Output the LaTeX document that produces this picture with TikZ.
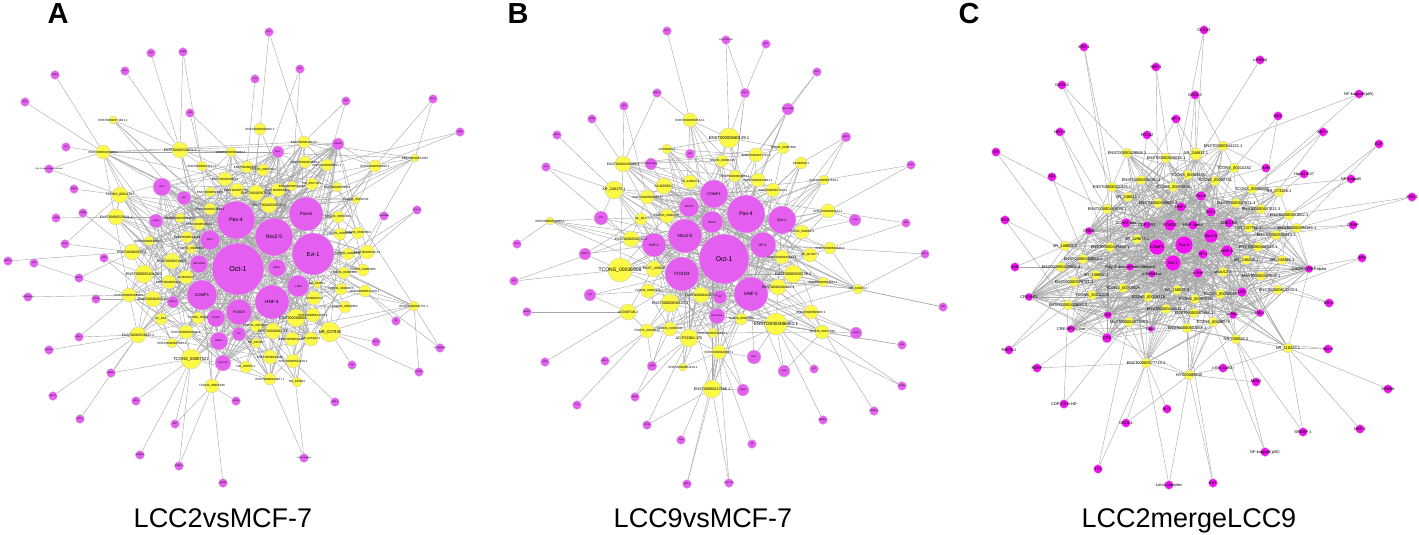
\documentclass[tikz,border=0pt]{standalone}
\usepackage{fontspec}
\setmainfont{Liberation Sans}
\pgfdeclarelayer{bg}
\pgfsetlayers{bg,main}
\definecolor{magA}{RGB}{228,94,240}
\definecolor{magC}{RGB}{240,18,238}
\definecolor{ylw}{RGB}{252,250,70}
\definecolor{edgec}{RGB}{165,165,165}
\tikzset{
  hubA/.style={circle,fill=magA,draw=black!18,line width=0.35pt,inner sep=0pt},
  hubC/.style={circle,fill=magC,draw=black!18,line width=0.35pt,inner sep=0pt},
  ynode/.style={circle,fill=ylw,draw=black!22,line width=0.35pt,inner sep=0pt},
  edge/.style={draw=edgec,line width=0.4pt},
  lbl/.style={inner sep=0pt,text=black},
  paneltag/.style={font=\fontsize{29}{29}\selectfont\bfseries,anchor=base,inner sep=0pt},
  paneltitle/.style={font=\fontsize{27}{27}\selectfont,anchor=base,inner sep=0pt}
}
% #1 prefix, #2 style, #3 min font, #4 font factor, #5 list name/x/y/r/label
\newcommand\hubnodes[5]{%
  \foreach \n/\x/\y/\r/\t in {#5}{%
    \pgfmathsetmacro\fs{max(#3,#4*\r)}%
    \node[#2,minimum size=2*\r,label={[lbl,font=\fontsize{\fs}{\fs}\selectfont]center:{\t}}] (#1\n) at (\x,\y) {};
  }}
% #1 prefix, #2 base font, #3 list x/y/r/label
\newcommand\ylwnodes[3]{%
  \foreach \x/\y/\r/\t [count=\i] in {#3}{%
    \pgfmathsetmacro\fs{max(#2,0.42*\r)}%
    \node[ynode,minimum size=2*\r,label={[lbl,font=\fontsize{\fs}{\fs}\selectfont]center:{\t}}] (#1y\i) at (\x,\y) {};
    \expandafter\xdef\csname #1r\i\endcsname{\r}%
  }}
% #1 prefix, #2 style, #3 font, #4 radius, #5 list x/y/label/target
\newcommand\perinodes[5]{%
  \foreach \x/\y/\t/\g [count=\i] in {#5}{%
    \node[#2,minimum size=2*#4,label={[lbl,font=\fontsize{#3}{#3}\selectfont]center:{\t}}] (#1q\i) at (\x,\y) {};
    \begin{pgfonlayer}{bg}\draw[edge] (#1q\i) -- (#1\g);\end{pgfonlayer}
  }}
% #1 prefix, #2 number of yellow nodes, #3 hub list, #4 base probability
\newcommand\randlinks[4]{%
  \foreach \i in {1,...,#2}{%
    \pgfmathsetmacro\pp{#4*\csname #1r\i\endcsname/7}%
    \foreach \h in {#3}{%
      \pgfmathsetmacro\k{rnd}%
      \ifdim\k pt<\pp pt \draw[edge] (#1y\i) -- (#1\h);\fi
    }%
    \pgfmathtruncatemacro\lo{max(1,\i-9)}%
    \pgfmathtruncatemacro\hi{min(#2,\i+9)}%
    \pgfmathrandominteger{\k}{\lo}{\hi}%
    \draw[edge] (#1y\i) -- (#1y\k);
    \pgfmathrandominteger{\k}{1}{#2}%
    \pgfmathsetmacro\z{rnd}%
    \ifdim\z pt<0.4pt \draw[edge] (#1y\i) -- (#1y\k);\fi
  }}
% #1 prefix, #2 hub list, #3 probability
\newcommand\hublinks[3]{%
  \foreach \a [count=\i] in {#2}{%
    \foreach \b [count=\j] in {#2}{%
      \ifnum\i<\j
        \pgfmathsetmacro\k{rnd}%
        \ifdim\k pt<#3pt \draw[edge] (#1\a) -- (#1\b);\fi
      \fi
    }}}
\begin{document}
\begin{tikzpicture}[x=1pt,y=-1pt]
\useasboundingbox (0,0) rectangle (1419,535);
\pgfmathsetseed{7}

% ---------------- Panel A ----------------
\node[paneltag] (LA) at (58,24) {A};
\node[paneltitle] (TA) at (223,527) {LCC2vsMCF-7};
\hubnodes{A}{hubA}{2.2}{0.27}{
 o/238/269/26/Oct-1, p4/236/220/19/Pax-4, n/274/237/19/Nkx2-5, p6/306/214/17/Pax-6,
 e/313/254/21/Evi-1, h4/272/302/17/HNF-4, cp/202/295/15/COMP1, fx/239/312/13/FOXD3,
 cr/298/286/11/c-Rel, h1/277/268/9/HNF-1, ap/210/240/10/AP-1, h3/199/264/9/HNF-3beta,
 fj/216/318/9/FOXJ2, nk/219/341/9/Nkx6-1, hl/239/334/7/HLF, cd/223/363/8/CDP CR1,
 ga/173/302/6/GATA-X, lb/184/198/7/LBP, ot/162/187/9/CP2, vm/156/221/7/v-Myb,
 el/278/152/6/Elk-1, cb/338/144/6/CRE-BP}
\ylwnodes{A}{3}{
 103/152/7/ENST00000436028.1, 180/150/8/ENST00000520971.1, 260/129/6/ENST00000560362.1,
 231/152/5/ENST00000560384.1, 304/142/6/ENST00000456777, 305/162/6/ENST00000601648.1,
 327/165/6/ENST00000608027.1, 375/166/6/ENST00000596650.1, 415/158/4/ENST00000557067,
 202/166/5/ENST00000433151.1, 247/167/6/ENST00000562221, 263/170/6/TCONS\_00004634,
 225/179/7/ENST00000565804, 237/190/7/ENST00000577601, 256/193/8/ENST00000567656,
 278/190/7/ENST00000589162, 292/186/5/ENST00000508281, 312/184/6/NR\_002710.1,
 337/187/5/ENST00000576051, 356/200/4/TCONS\_00018741, 210/192/5/ENST00000521407,
 269/205/8/ENST00000565002.1, 210/209/6/ENST00000521838.1, 180/218/5/ENST00000565116.1,
 199/224/6/ENST00000505461, 187/237/6/ENST00000523340, 149/241/5/ENST00000438612.1,
 191/249/5/TCONS\_00026862, 172/261/8/ENST00000518027, 132/252/8/ENST00000584551,
 144/274/9/ENST00000540435.1, 169/282/7/ENST00000561222, 186/277/7/AC004943.2,
 129/295/7/ENST00000410558.1, 153/299/8/ENST00000456588, 161/319/6/lnc\_SA1,
 198/318/6/TCONS\_00026, 138/335/8/ENST00000526897.2, 172/343/5/ENST00000605291.1,
 186/332/7/ENST00000569038.1, 191/359/10/TCONS\_00007522, 212/386/7/TCONS\_00005438,
 246/367/6/NR\_109783.1, 256/326/6/TCONS\_00018918, 256/343/5/NR\_036497,
 273/331/8/ENST00000603716, 270/357/7/ENST00000592395, 270/379/6/ENST00000444657.1,
 292/339/7/ENST00000563261, 293/361/7/ENST00000563449.1, 297/382/5/NR\_033641,
 296/318/9/ENST00000604253, 311/339/7/NR\_045044.1, 313/315/7/ENST00000612705.1,
 314/298/7/AC008154.1, 317/284/4/NR\_033661, 330/332/10/NR\_027935,
 345/307/6/TCONS\_00000652, 341/289/6/TCONS\_00009875, 365/291/6/ENST00000612156.1,
 344/273/6/TCONS\_00002060, 363/270/6/TCONS\_00003805, 348/254/6/TCONS\_00026716,
 367/252/7/ENST00000502719, 340/234/6/TCONS\_00026761, 358/233/6/TCONS\_00003554,
 338/217/6/TCONS\_00002393, 414/306/5/ENST00000611751.1, 120/195/8/TCONS\_00011303,
 116/217/8/ENST00000525904.1, 113/120/4/ENST00000571821.1}
\perinodes{A}{hubA}{2.2}{4.5}{
 269/32/NF-Y/y3, 151/53/Sp1/y2, 183/52/CREB/y2, 55/75/MZF1/y1, 125/71/AP-2/y2,
 300/69/E2F/y12, 255/79/YY1/y11, 25/102/SRF/y1, 346/101/Nrf2/y5, 433/99/Pbx-1/y8,
 190/113/HSF/y4, 460/132/CdxA/y8, 66/147/Ik-1/y1, 49/169/Poly A downstream element/y69,
 74/189/MyoD/y69, 83/213/{C/EBP}/y30, 56/218/v-Maf/y70, 65/244/Sox-5/y69,
 8/261/GATA-1/y30, 34/263/USF/y34, 104/258/STAT/y35, 79/278/Bach1/y30,
 28/297/RORalpha1/y34, 96/299/TCF11/y35, 79/337/HFH-2/y38, 49/350/{AhR/Arnt}/y38,
 111/373/GATA-3/y41, 53/396/Nkx3-1/y38, 136/401/XFD-1/y41, 80/419/XFD-2/y38,
 175/424/E47/y42, 140/455/SREBP-1/y41, 179/466/RREB-1/y41, 236/401/c-Ets-1/y42,
 304/458/Lmo2 complex/y48, 223/483/AREB6/y42, 417/210/Freac-2/y63, 396/321/S8/y60,
 376/342/Brn-2/y57, 440/348/NF-kappaB/y68, 419/372/PPARa/y68, 352/365/Cap/y57,
 335/402/NRF-2/y50, 384/216/{Tax/CREB}/y64}
\begin{pgfonlayer}{bg}
\randlinks{A}{71}{o,p4,n,p6,e,h4,cp,fx,cr,h1,ap,h3,fj,nk,hl,cd,ga,lb,ot,vm,el,cb}{0.26}
\hublinks{A}{o,p4,n,p6,e,h4,cp,fx,cr,h1,ap,h3,fj,nk,hl,cd,ga,lb,ot,vm,el,cb}{0.35}
\foreach \a/\b in {Aq9/Ay7, Aq6/Ay17, Aq12/Ay7, Aq37/Ay64, Aq38/Ay68, Aq14/Ay1, Aq18/Ay30,
  Aq21/Ay31, Aq25/Ay34, Aq27/Ay38, Aq31/Ay41, Aq35/Ay50, Aq41/Ay57, Aq10/Ay9, Aq40/Ay60,
  Aq1/Ay5, Aq11/Ay10, Aq3/Ay10, Aq33/Ay42}
  \draw[edge] (\a) -- (\b);
\end{pgfonlayer}

% ---------------- Panel B ----------------
\node[paneltag] (LB) at (518,24) {B};
\node[paneltitle] (TB) at (703,527) {LCC9vsMCF-7};
\hubnodes{B}{hubA}{2.2}{0.27}{
 o/724/259/25/Oct-1, p4/746/214/19/Pax-4, cp/714/194/14/COMP1, e/782/220/14/Evi-1,
 n/685/236/17/Nkx2-5, p6/712/222/11/Pax-6, fj/689/207/10/FOXJ2, h4/654/245/12/HNF-4,
 ap/763/245/13/AP-1, fx/682/274/17/FOXD3, h1/751/294/17/HNF-1, t2/720/297/7/TBP,
 h3/717/316/8/HNF-3beta}
\ylwnodes{B}{3}{
 690/120/7/ENST00000568524.1, 729/138/10/ENST00000560129.1, 783/148/6/TCONS\_00007608,
 756/155/7/ENST00000427755.1, 801/163/6/AC008CM.1, 722/161/6/TCONS\_00006136,
 667/149/5/AC026464.1, 623/164/8/ENST00000436029.1, 735/176/6/ENST00000603364.1,
 758/180/7/ENST00000494681.1, 773/190/7/ENST00000557160.1, 824/180/5/ENST00000567516.1,
 690/182/7/XR\_240622.3, 664/186/8/AC405859.2, 614/190/9/XR\_246175.1,
 647/197/7/ENST00000508521.1, 667/216/7/TCONS\_00004847, 641/219/6/AC\_83.1,
 631/239/8/ENST00000500735.1, 550/221/4/ENST00000520485.1, 828/211/7/ENST00000584641.1,
 802/232/7/TCONS\_00026471, 830/248/6/ENST00000584649.2, 810/255/7/NR\_027487.1,
 782/257/7/ENST00000442944.1, 793/274/9/ENST00000566138.2, 823/282/5/ENST00000584661.1,
 778/287/8/ENST00000494823.1, 858/289/5/XR\_241903.1, 620/270/12/TCONS\_00036908,
 654/269/8/ENST\_438050, 648/291/7/TCONS\_00037215, 670/303/9/ENST00000606424.1,
 701/295/8/ENST00000604627.1, 628/312/8/AC009FGB.2, 741/319/6/TCONS\_00022033,
 776/324/11/ENST00000486481.1, 811/312/7/ENST00000506905.1, 822/332/7/TCONS\_00017048,
 647/331/7/TCONS\_00019412, 670/329/7/TCONS\_00006331, 689/338/9/AC-PCDB4-175,
 713/333/5/ENST00000516823.1, 719/352/7/ENST00000440687.1, 683/367/4/ENST00000601218.1,
 712/389/9/ENST00000417986.1}
\foreach \n/\x/\y/\r/\t/\ga/\gb/\gc in {
 c2/601/218/7/CP2/y19/y15/n, g2/585/254/6/GATA-2/y30/y18/h4, us/590/295/6/USF/y35/y32/fx,
 cr/855/220/6/c-Rel/y21/y22/e, m1/651/164/6/{C/EBPalpha}/y8/y14/cp, m2/690/154/5/LBP/y13/y1/p4,
 el/754/357/7/Elk-1/y44/y37/h1, m3/784/371/6/v-Rel/y37/y39/h1, m4/743/390/6/CREB/y46/y44/h3,
 m5/652/366/5/c-Myb/y40/y42/fx, m6/856/333/6/Hand1/y39/y38/h1, m7/788/109/6/HNF-3alpha/y4/y10/p4,
 m8/846/137/5/MZF1/y12/y5/e, m9/745/93/5/Cdx-1/y2/y9/o}{
  \node[hubA,minimum size=2*\r,label={[lbl,font=\fontsize{2.2}{2.2}\selectfont]center:{\t}}] (B\n) at (\x,\y) {};
  \begin{pgfonlayer}{bg}\draw[edge] (B\n) -- (B\ga) (B\n) -- (B\gb) (B\n) -- (B\gc);\end{pgfonlayer}
}
\perinodes{B}{hubA}{2.2}{4.5}{
 667/31/NF-Y/y1, 726/40/CDP CR3+HD/y2, 766/44/E2F/m9, 817/72/AP-2/m7, 657/93/GATA-1/y8,
 624/106/Sp1/y8, 592/119/CREB/y8, 557/135/MZF1/y15, 546/167/Ik-1/y15, 911/165/Sox-5/y21,
 906/223/SRF/y23, 517/244/Pbx-1/y20, 925/254/XFD-1/y23, 514/281/USF/y30, 527/312/Bach1/y35,
 943/307/Nrf2/y29, 902/345/AhR/y39, 545/362/STAT/y35, 605/361/HFH-2/y40, 814/369/E47/y37,
 902/386/PPARa/y39, 635/397/MyoD/y41, 577/405/YY1/y40, 874/411/SREBP-1/y38,
 823/420/RREB-1/y37, 647/425/TCF11/y46, 681/440/Cap/y44, 752/444/S8/y44,
 687/484/NRF-2/y46, 729/483/CDP CR3/y46}
\begin{pgfonlayer}{bg}
\randlinks{B}{46}{o,p4,cp,e,n,p6,fj,h4,ap,fx,h1,t2,h3}{0.38}
\hublinks{B}{o,p4,cp,e,n,p6,fj,h4,ap,fx,h1,t2,h3}{0.45}
\foreach \a/\b in {Bq4/By4, Bq10/By12, Bq11/By21, Bq16/By27, Bq2/Bm9, Bq5/By1,
  Bq13/By29, Bq17/By37, Bq22/By42, Bq26/By42, Bq29/By44, Bq30/By44, Bq21/By37,
  Bq14/By19, Bq9/By19, Bq6/By16}
  \draw[edge] (\a) -- (\b);
\end{pgfonlayer}

% ---------------- Panel C ----------------
\node[paneltag] (LC) at (969,24) {C};
\node[paneltitle] (TC) at (1189,527) {LCC2mergeLCC9};
\hubnodes{C}{hubC}{4.0}{0}{
 o/1173/263/8/Oct-1, p4/1184/245/9/Pax-4, cp/1157/247/8/COMP1, n/1211/236/7/Nkx2-5,
 h4/1227/251/6/HNF-4, ap/1203/254/5/AP-1, fx/1170/225/6/FOXD3, h3/1193/225/5/HNF-3beta,
 e/1211/212/5/Evi-1, h1/1181/207/5/HNF-1, p6/1201/196/5/Pax-6, cd/1147/225/4/CDP CR1,
 cc/1126/223/5/CCAAT box, cr/1198/273/5/c-Rel, pa/1130/267/4/Poly A downstream element,
 mb/1152/274/4/{c-Myb/Max}, us/1242/292/5/USF, en/1229/223/5/ENKCRE, ek/1260/313/4/Elk-1,
 mc/1233/315/4/c-Myc, hl/1108/315/4/HLF, c2/1107/338/5/CP2, cj/1071/329/4/{CRE-BP1/c-Jun},
 cb/1029/297/4/CRE-BP1, ce/1089/231/4/CREB, o2/1151/329/3/Oct-1, gh/1309/269/4/{CHOP-C/EBPalpha}}
\ylwnodes{C}{4.0}{
 1127/153/5/ENST00000429508.1, 1166/158/5/ENST00000608038.1, 1196/154/6/XR\_244811.1,
 1223/146/5/ENST00000544132.1, 1234/168/5/TCONS\_00010282, 1188/175/5/TCONS\_00003885,
 1215/181/5/TCONS\_00020781, 1141/180/5/ENST00000588280.1, 1112/187/5/ENST00000411825.1,
 1173/187/5/TCONS\_00005636, 1128/197/5/XR\_246042.2, 1158/203/5/ENST00000608622.1,
 1107/209/5/ENST00000441538.1, 1252/189/5/TCONS\_00006892, 1279/192/5/NR\_073166.1,
 1236/203/5/ENST00000607021.1, 1261/209/5/ENST00000607021.3, 1289/215/5/ENST00000601662.1,
 1249/228/5/XR\_037794.1, 1297/228/5/ENST00000594165.1, 1276/235/5/ENST00000535343.1,
 1258/247/5/ENST00000600048.1, 1137/239/5/XR\_429673.1, 1110/247/5/ENST00000449484.1,
 1065/246/5/XR\_108852.2, 1083/259/5/ENST00000450824.1, 1061/267/5/ENST00000447002.1,
 1246/260/5/XR\_246208.1, 1282/260/5/XR\_242486.1, 1223/272/5/snoU13.3,
 1261/276/5/ENST00000597028.1, 1096/275/5/XR\_108852.1, 1074/282/5/ENST00000579781.1,
 1123/288/5/TCONS\_00016828, 1177/290/5/XR\_158037.3, 1148/297/5/TCONS\_00019718,
 1220/294/5/TCONS\_00008080, 1195/299/5/TCONS\_00037888, 1092/295/5/TCONS\_00011009,
 1278/290/5/ENST00000613204.1, 1068/305/5/ENST00000423687.2, 1166/309/5/ENST00000448841.1,
 1194/313/5/ENST00000587998.1, 1129/322/5/ENST00000451768.2, 1213/322/5/TCONS\_00036576,
 1187/328/5/ENST00000602068.1, 1236/339/5/NR\_026842.2, 1288/348/5/NR\_118233.1,
 1146/363/5/ENST00000577719.1, 1189/375/5/HIT000089640}
\perinodes{C}{hubC}{4.0}{4.5}{
 1015/267/Staf/y27, 1005/220/TATA/y41, 996/152/GR/y13, 1052/177/Sp1/hl, 1060/132/HFH-1/y24,
 1062/85/GATA-2/y9, 1084/47/XFD-1/y34, 1156/67/SEF-1/y10, 1204/30/CCAAT/y3,
 1260/60/c-Rel(b)/y6, 1195/95/GATA-3/y5, 1176/119/NF-Y/y6, 1147/135/FOXJ2/y8,
 1359/94/NF-kappaB(p65)/y16, 1278/116/Nrf2/y17, 1323/132/XBP-1/y19, 1379/144/E2F/y20,
 1266/168/AhR/y4, 1304/174/Hand1:E47/y14, 1351/179/NF-kappaB/y14, 1412/197/XFD-2/y18,
 1353/225/{C/EBP}/y21, 1362/258/SRF/y31, 1329/303/BR-C/y40, 1328/349/Sox-5/y47,
 1388/389/AREB6/y48, 1360/429/NRF-2/y48, 1303/432/SREBP-1/y47, 1265/452/NF-kappaB(p50)/y45,
 1256/382/MyoD/y50, 1223/368/c-Ets-1(p54)/y48, 1167/409/IK-1/y44, 1126/423/GATA-1/y50,
 1098/469/YY1/y49, 1064/404/CDP CR3+HD/y41, 1037/368/RSRF/y49, 1009/350/RREB-1/y41,
 1169/485/Lmo2 complex/y50, 1213/483/E47/y46}
\begin{pgfonlayer}{bg}
\randlinks{C}{50}{o,p4,cp,n,h4,ap,fx,h3,e,h1,p6,cd,cc,cr,pa,mb,us,en,ek,mc,hl,c2,cj,cb,ce,o2,gh}{0.45}
\hublinks{C}{o,p4,cp,n,h4,ap,fx,h3,e,h1,p6,cd,cc,cr,pa,mb,us,en,ek,mc,hl,c2,cj,cb,ce,o2,gh}{0.3}
\foreach \a/\b in {Cq11/Cy3, Cq12/Cy3, Cq13/Cy2, Cq9/Cy10, Cq8/Cy12, Cq5/Cy13, Cq6/Cy1,
  Cq7/Cy9, Cq3/Cy25, Cq1/Cy25, Cq2/Cy26, Cq37/Cy33, Cq35/Cy44, Cq36/Chl, Cq33/Cy49,
  Cq34/Cy44, Cq38/Cy49, Cq39/Cy50, Cq30/Cy47, Cq31/Cy50, Cq29/Cy47, Cq28/Cy48,
  Cq25/Cy48, Cq24/Cy31, Cq23/Cy40, Cq22/Cy20, Cq19/Cy17, Cq20/Cy18, Cq21/Cy20,
  Cq14/Cy4, Cq15/Cy5, Cq18/Cy7, Cq16/Cy14, Cq17/Cy18, Cq12/Cy8, Cq11/Cy6}
  \draw[edge] (\a) -- (\b);
\end{pgfonlayer}
\end{tikzpicture}
\end{document}
